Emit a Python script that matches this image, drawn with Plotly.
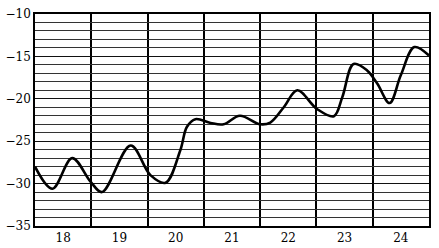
import plotly.graph_objects as go

days = [17.5, 17.81, 18.16, 18.49, 18.69, 19.2, 19.55, 19.82, 20.08, 20.2, 20.35,
        20.62, 20.85, 21.14, 21.5, 21.68, 21.92, 22.16, 22.51, 22.81, 22.96, 23.16,
        23.4, 23.58, 23.8, 24.0, 24.24, 24.5]
temps = [-28.0, -30.6, -27.0, -29.8, -31.0, -25.5, -29.0, -29.9, -26.1, -23.3, -22.4,
         -22.85, -23.0, -22.0, -23.0, -22.8, -21.0, -19.0, -21.2, -22.05, -19.8, -15.9,
         -16.65, -18.2, -20.5, -17.2, -13.9, -14.9]
x_ticks = [18, 19, 20, 21, 22, 23, 24]
y_ticks = [-35, -30, -25, -20, -15, -10]

fig = go.Figure()
fig.add_trace(go.Scatter(x=days, y=temps, mode="lines",
                         line=dict(color="black", width=2.6, shape="spline", smoothing=1.0),
                         hoverinfo="skip"))

font = dict(family="DejaVu Serif", size=12, color="black")
fig.update_layout(
    width=439, height=248,
    margin=dict(l=35, r=10, t=14, b=22),
    paper_bgcolor="white", plot_bgcolor="white",
    showlegend=False,
    font=font,
    xaxis=dict(range=[17.5, 24.5], tickvals=x_ticks, ticks="", showgrid=False, automargin=False,
               zeroline=False, showline=True, linecolor="black", linewidth=1.6, mirror=True,
               tickfont=font,
               minor=dict(tick0=17.5, dtick=1, showgrid=True, gridcolor="black", gridwidth=1.6, ticks="")),
    yaxis=dict(range=[-35, -10], tickvals=y_ticks, ticks="", showgrid=True, automargin=False,
               gridcolor="#111", gridwidth=1.3,
               zeroline=False, showline=True, linecolor="black", linewidth=1.6, mirror=True,
               tickfont=font,
               minor=dict(dtick=1, showgrid=True, gridcolor="#333", gridwidth=1, ticks="")),
)
fig.write_html("out.html")
